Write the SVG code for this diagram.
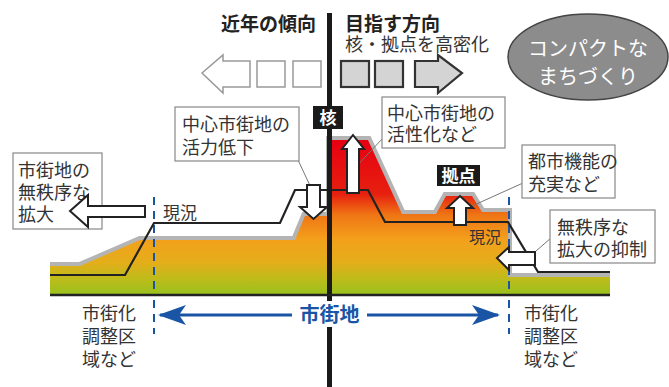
<svg xmlns="http://www.w3.org/2000/svg" width="669" height="387" viewBox="0 0 669 387">
<defs>
<linearGradient id="terrain" gradientUnits="userSpaceOnUse" x1="0" y1="140" x2="0" y2="295">
<stop offset="0" stop-color="#e60012"/>
<stop offset="0.35" stop-color="#e7200f"/>
<stop offset="0.48" stop-color="#ef7414"/>
<stop offset="0.64" stop-color="#f3a01c"/>
<stop offset="0.79" stop-color="#e4ae1a"/>
<stop offset="0.9" stop-color="#bcbc1a"/>
<stop offset="1" stop-color="#98c11e"/>
</linearGradient>
<marker id="bh" viewBox="0 0 30 20" refX="28" refY="10" markerWidth="30" markerHeight="20" markerUnits="userSpaceOnUse" orient="auto-start-reverse">
<path d="M30,10 L2,0 L9,10 L2,20 Z" fill="#1a55a5"/>
</marker>
<style>
text{font-family:"Liberation Sans","Noto Sans CJK JP","Noto Sans CJK SC",sans-serif;}
.lbl{font-size:18px;fill:#333;}
.head{font-size:19px;font-weight:bold;fill:#222;}
.box{fill:#fff;stroke:#888;stroke-width:1.2;}
.tag{fill:#1a1a1a;}
.tagt{font-size:17px;font-weight:bold;fill:#fff;text-anchor:middle;}
.warr{fill:#fff;stroke:#222;stroke-width:2;stroke-linejoin:miter;}
.lead{stroke:#777;stroke-width:1;fill:none;}
.cur{fill:none;stroke:#222;stroke-width:2.2;stroke-linejoin:miter;}
.blued{stroke:#1a55a5;stroke-width:2;stroke-dasharray:8 6;}
.sqL{fill:#fff;stroke:#999;stroke-width:1.5;}
.sqR{fill:#d4d4d4;stroke:#333;stroke-width:2.2;}
.bot{font-size:18px;fill:#333;}
</style>
</defs>

<g id="terrain">
<polyline points="50,266 80,266 140,240 295,240 305,216 330,216 330,140 368,140 402,214 436,214 446,196 472,196 482,212 508,212 508,277 610,277" fill="none" stroke="#b4b4b4" stroke-width="8" stroke-linejoin="miter"/>
<polygon points="50,266 80,266 140,240 295,240 305,216 330,216 330,140 368,140 402,214 436,214 446,196 472,196 482,212 508,212 508,277 610,277 610,295 50,295" fill="url(#terrain)"/>
</g>

<g id="boundaries">
<line class="blued" x1="154" y1="197" x2="154" y2="293"/>
<line class="blued" x1="509" y1="197" x2="509" y2="293"/>
<line class="blued" x1="154" y1="300" x2="154" y2="334"/>
<line class="blued" x1="509" y1="300" x2="509" y2="334"/>
</g>

<g id="current-line">
<polyline class="cur" points="50,275 125,275 154,223 280,223 295,190 368,190 385,222 508,222 538,272 610,272"/>
</g>

<g id="axis">
<line x1="329.5" y1="13" x2="329.5" y2="301" stroke="#1a1a1a" stroke-width="5"/>
<line x1="329.5" y1="327" x2="329.5" y2="387" stroke="#1a1a1a" stroke-width="5"/>
<line x1="50" y1="295" x2="610" y2="295" stroke="#222" stroke-width="2.5"/>
</g>

<g id="headers">
<text class="head" x="316" y="31" text-anchor="end">近年の傾向</text>
<text class="head" x="345" y="31">目指す方向</text>
<text x="345" y="51" style="font-size:18px;fill:#333">核・拠点を高密化</text>
</g>

<g id="trend-left">
<path class="sqL" d="M202,73 L223,55 L223,61 L250,61 L250,87 L223,87 L223,93 Z"/>
<rect class="sqL" x="257" y="61" width="28" height="26"/>
<rect class="sqL" x="293" y="61" width="28" height="26"/>
</g>

<g id="trend-right">
<rect class="sqR" x="341" y="61" width="28" height="26"/>
<rect class="sqR" x="375" y="61" width="28" height="26"/>
<path class="sqR" d="M415,61 L438,61 L438,55 L462,73 L438,93 L438,87 L415,87 Z"/>
</g>

<g id="compact">
<ellipse cx="588" cy="57" rx="80" ry="43" fill="#8c8c8c" stroke="#444" stroke-width="1.5"/>
<text x="588" y="56" text-anchor="middle" style="font-size:20px;fill:#fff">コンパクトな</text>
<text x="588" y="84" text-anchor="middle" style="font-size:20px;fill:#fff">まちづくり</text>
</g>

<g id="connectors">
<line class="lead" x1="298" y1="160" x2="313" y2="192"/>
<line class="lead" x1="383" y1="138" x2="351" y2="172"/>
<line class="lead" x1="523" y1="183" x2="461" y2="211"/>
<line class="lead" x1="551" y1="238" x2="528" y2="258"/>
</g>

<g id="arrow-decline">
<path class="warr" d="M307,185 L320,185 L320,207 L327,207 L313.5,219 L300,207 L307,207 Z"/>
</g>
<g id="arrow-core">
<path class="warr" d="M353,135 L364,149 L359,149 L359,193 L347,193 L347,149 L342,149 Z"/>
</g>
<g id="arrow-hub">
<path class="warr" d="M460,196 L473,208 L466,208 L466,225 L454,225 L454,208 L447,208 Z"/>
</g>
<g id="arrow-suppress">
<path class="warr" d="M497,258 L509,247 L509,252 L535,252 L535,265 L509,265 L509,270 Z"/>
</g>

<g id="label-sprawl">
<rect class="box" x="13" y="153" width="89" height="76"/>
<text class="lbl" x="18" y="177">市街地の</text>
<text class="lbl" x="18" y="199">無秩序な</text>
<text class="lbl" x="18" y="221">拡大</text>
</g>
<g id="arrow-sprawl">
<path class="warr" d="M70,211 L88,195 L88,206 L145,206 L145,217 L88,217 L88,227 Z"/>
</g>

<g id="label-decline">
<rect class="box" x="175" y="107" width="124" height="54"/>
<text class="lbl" x="182" y="131">中心市街地の</text>
<text class="lbl" x="182" y="154">活力低下</text>
</g>

<g id="label-activate">
<rect class="box" x="382" y="97" width="123" height="51"/>
<text class="lbl" x="387" y="120">中心市街地の</text>
<text class="lbl" x="387" y="141">活性化など</text>
</g>

<g id="label-function">
<rect class="box" x="522" y="145" width="93" height="53"/>
<text class="lbl" x="528" y="168">都市機能の</text>
<text class="lbl" x="528" y="191">充実など</text>
</g>

<g id="label-suppress">
<rect class="box" x="550" y="210" width="105" height="53"/>
<text class="lbl" x="557" y="234">無秩序な</text>
<text class="lbl" x="557" y="256">拡大の抑制</text>
</g>

<g id="tag-core">
<rect class="tag" x="313" y="106" width="30" height="23"/>
<text class="tagt" x="328" y="124">核</text>
</g>

<g id="tag-hub">
<rect class="tag" x="437" y="165" width="43" height="21"/>
<text class="tagt" x="458.5" y="182">拠点</text>
</g>

<g id="current-labels">
<text x="163" y="219" style="font-size:17px;fill:#333">現況</text>
<text x="469" y="243" style="font-size:16px;fill:#333">現況</text>
</g>

<g id="urban-area">
<line x1="160" y1="315" x2="292" y2="315" stroke="#1a55a5" stroke-width="3" marker-start="url(#bh)"/>
<line x1="367" y1="315" x2="498" y2="315" stroke="#1a55a5" stroke-width="3" marker-end="url(#bh)"/>
<text x="329.5" y="322" text-anchor="middle" style="font-size:20px;font-weight:bold;fill:#1a55a5">市街地</text>
</g>

<g id="label-left-zone">
<text class="bot" x="82" y="320">市街化</text>
<text class="bot" x="82" y="343">調整区</text>
<text class="bot" x="82" y="366">域など</text>
</g>
<g id="label-right-zone">
<text class="bot" x="524" y="320">市街化</text>
<text class="bot" x="524" y="343">調整区</text>
<text class="bot" x="524" y="366">域など</text>
</g>
</svg>
